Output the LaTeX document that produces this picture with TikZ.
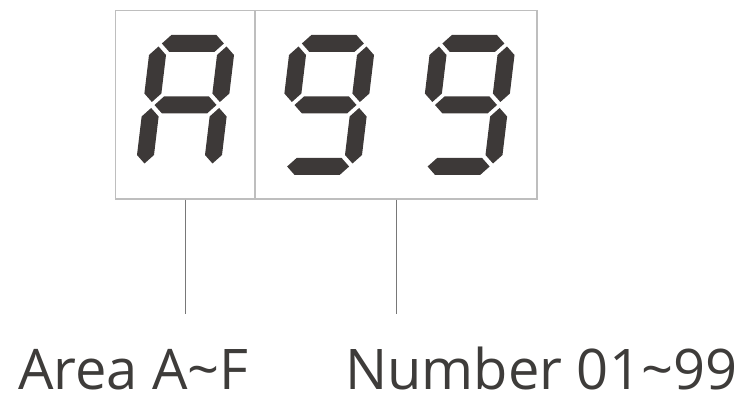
\documentclass[tikz,border=0pt]{standalone}
\usepackage{fontspec}
\setmainfont{Open Sans}
\usepackage{tikz}

\definecolor{segcol}{RGB}{61,57,56}
\definecolor{framecol}{RGB}{190,190,190}
\definecolor{leadcol}{RGB}{120,120,120}
\definecolor{labelcol}{RGB}{62,60,58}

\tikzset{
  seg/.style={fill=segcol},
  cell/.style={draw=framecol,line width=1.3pt,inner sep=0pt,minimum height=188.5pt},
  lead/.style={draw=leadcol,line width=0.9pt},
  label/.style={text=labelcol,font=\fontsize{56}{60}\selectfont,inner sep=0pt,anchor=base west}
}

% one segment, horizontal or vertical, local units in pt, y pointing down
\newcommand\hseg[1]{\fill[seg] (-31,#1) -- ++(8.5,-8.5) -- ++(45,0) -- ++(8.5,8.5) -- ++(-8.5,8.5) -- ++(-45,0) -- cycle;}
\newcommand\vseg[2]{\fill[seg] (#1,#2) -- ++(8.5,8.5) -- ++(0,38.5) -- ++(-8.5,8.5) -- ++(-8.5,-8.5) -- ++(0,-38.5) -- cycle;}

\begin{document}
\begin{tikzpicture}[x=1pt,y=-1pt]
   \useasboundingbox (0,0) rectangle (742,414);
   \node[cell,minimum width=139.5pt] (cellA) at (185.25,104.75) {};
   \node[cell,minimum width=282pt] (cellN) at (396,104.75) {};
   % A
   \begin{scope}[shift={(185.5,105)},xslant=0.12]
     \hseg{-61.5} \hseg{0}
     \vseg{-34}{-58.5} \vseg{34}{-58.5}
     \vseg{-34}{3} \vseg{34}{3}
   \end{scope}
   % 9 9
   \foreach \cx in {325.5,466} {
     \begin{scope}[shift={(\cx,105)},xslant=0.12]
       \hseg{-61.5} \hseg{0} \hseg{61.5}
       \vseg{-34}{-58.5} \vseg{34}{-58.5}
       \vseg{34}{3}
     \end{scope}
   }
   \node[label] (area) at (18,389) {Area A\char`\~F};
   \node[label] (number) at (345,389) {Number 01\char`\~99};
   \coordinate (endA) at (cellA.south |- 0,314);
   \coordinate (endN) at (cellN.south |- 0,314);
   \draw[lead] (cellA.south) -- (endA);
   \draw[lead] (cellN.south) -- (endN);
\end{tikzpicture}
\end{document}
